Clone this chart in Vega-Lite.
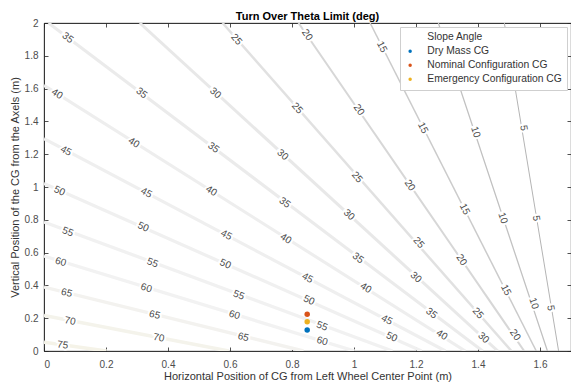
{
  "$schema": "https://vega.github.io/schema/vega-lite/v6.json",
  "width": 527,
  "height": 328,
  "autosize": {"type": "none"},
  "padding": {"left": 44, "top": 23, "right": 0, "bottom": 34},
  "background": "white",
  "title": {"text": "Turn Over Theta Limit (deg)", "fontSize": 11, "fontWeight": "bold", "font": "Liberation Sans", "color": "#000000", "offset": -4},
  "config": {
    "font": "Liberation Sans",
    "view": {"stroke": "#262626", "strokeWidth": 0.8},
    "axis": {
      "grid": false,
      "domainColor": "#262626",
      "domainWidth": 0.8,
      "tickColor": "#262626",
      "tickSize": -4,
      "tickWidth": 0.8,
      "labelColor": "#4d4d4d",
      "labelFontSize": 10,
      "titleFontSize": 11,
      "titleFontWeight": "normal",
      "titleColor": "#333333",
      "format": "~g"
    }
  },
  "datasets": {
    "lines": [
      {"level": 5, "x": 1.660, "y": 0}, {"level": 5, "x": 1.485, "y": 2},
      {"level": 10, "x": 1.624, "y": 0}, {"level": 10, "x": 1.272, "y": 2},
      {"level": 15, "x": 1.588, "y": 0}, {"level": 15, "x": 1.052, "y": 2},
      {"level": 20, "x": 1.549, "y": 0}, {"level": 20, "x": 0.821, "y": 2},
      {"level": 25, "x": 1.508, "y": 0}, {"level": 25, "x": 0.576, "y": 2},
      {"level": 30, "x": 1.464, "y": 0}, {"level": 30, "x": 0.309, "y": 2},
      {"level": 35, "x": 1.415, "y": 0}, {"level": 35, "x": 0.0145, "y": 2},
      {"level": 40, "x": 1.359, "y": 0}, {"level": 40, "x": 0, "y": 1.620},
      {"level": 45, "x": 1.295, "y": 0}, {"level": 45, "x": 0, "y": 1.295},
      {"level": 50, "x": 1.218, "y": 0}, {"level": 50, "x": 0, "y": 1.022},
      {"level": 55, "x": 1.124, "y": 0}, {"level": 55, "x": 0, "y": 0.787},
      {"level": 60, "x": 1.002, "y": 0}, {"level": 60, "x": 0, "y": 0.579},
      {"level": 65, "x": 0.837, "y": 0}, {"level": 65, "x": 0, "y": 0.390},
      {"level": 70, "x": 0.596, "y": 0}, {"level": 70, "x": 0, "y": 0.217},
      {"level": 75, "x": 0.202, "y": 0}, {"level": 75, "x": 0, "y": 0.054}
    ],
    "labels": [
      {"level": 75, "x": 0.06, "y": 0.037},
      {"level": 70, "x": 0.084, "y": 0.183}, {"level": 70, "x": 0.37, "y": 0.08},
      {"level": 65, "x": 0.073, "y": 0.354}, {"level": 65, "x": 0.357, "y": 0.22}, {"level": 65, "x": 0.643, "y": 0.085},
      {"level": 60, "x": 0.054, "y": 0.543}, {"level": 60, "x": 0.33, "y": 0.384}, {"level": 60, "x": 0.614, "y": 0.22}, {"level": 60, "x": 0.897, "y": 0.06},
      {"level": 55, "x": 0.077, "y": 0.726}, {"level": 55, "x": 0.35, "y": 0.537}, {"level": 55, "x": 0.628, "y": 0.34}, {"level": 55, "x": 0.897, "y": 0.152},
      {"level": 50, "x": 0.05, "y": 0.976}, {"level": 50, "x": 0.32, "y": 0.756}, {"level": 50, "x": 0.585, "y": 0.53}, {"level": 50, "x": 0.855, "y": 0.31}, {"level": 50, "x": 1.122, "y": 0.085},
      {"level": 45, "x": 0.071, "y": 1.22}, {"level": 45, "x": 0.33, "y": 0.965}, {"level": 45, "x": 0.588, "y": 0.707}, {"level": 45, "x": 0.85, "y": 0.445}, {"level": 45, "x": 1.106, "y": 0.19},
      {"level": 40, "x": 0.042, "y": 1.567}, {"level": 40, "x": 0.29, "y": 1.27}, {"level": 40, "x": 0.54, "y": 0.976}, {"level": 40, "x": 0.78, "y": 0.685}, {"level": 40, "x": 1.038, "y": 0.384}, {"level": 40, "x": 1.283, "y": 0.098},
      {"level": 35, "x": 0.077, "y": 1.91}, {"level": 35, "x": 0.315, "y": 1.573}, {"level": 35, "x": 0.547, "y": 1.24}, {"level": 35, "x": 0.777, "y": 0.905}, {"level": 35, "x": 1.013, "y": 0.567}, {"level": 35, "x": 1.25, "y": 0.23},
      {"level": 30, "x": 0.553, "y": 1.573}, {"level": 30, "x": 0.77, "y": 1.197}, {"level": 30, "x": 0.984, "y": 0.83}, {"level": 30, "x": 1.2, "y": 0.45}, {"level": 30, "x": 1.418, "y": 0.08},
      {"level": 25, "x": 0.621, "y": 1.9}, {"level": 25, "x": 0.817, "y": 1.48}, {"level": 25, "x": 1.01, "y": 1.06}, {"level": 25, "x": 1.209, "y": 0.66}, {"level": 25, "x": 1.4, "y": 0.23},
      {"level": 20, "x": 0.849, "y": 1.927}, {"level": 20, "x": 1.016, "y": 1.47}, {"level": 20, "x": 1.18, "y": 1.01}, {"level": 20, "x": 1.347, "y": 0.555}, {"level": 20, "x": 1.52, "y": 0.098},
      {"level": 15, "x": 1.09, "y": 1.854}, {"level": 15, "x": 1.222, "y": 1.36}, {"level": 15, "x": 1.357, "y": 0.865}, {"level": 15, "x": 1.49, "y": 0.372},
      {"level": 10, "x": 1.392, "y": 1.335}, {"level": 10, "x": 1.48, "y": 0.81}, {"level": 10, "x": 1.58, "y": 0.29},
      {"level": 5, "x": 1.547, "y": 1.36}, {"level": 5, "x": 1.588, "y": 0.81}, {"level": 5, "x": 1.634, "y": 0.262}
    ],
    "cg": [
      {"series": "Dry Mass CG", "x": 0.849, "y": 0.128},
      {"series": "Nominal Configuration CG", "x": 0.849, "y": 0.224},
      {"series": "Emergency Configuration CG", "x": 0.849, "y": 0.179}
    ]
  },
  "resolve": {"axis": {"x": "independent", "y": "independent"}},
  "layer": [
    {
      "data": {"name": "lines"},
      "mark": {"type": "line", "clip": true},
      "encoding": {
        "x": {"field": "x", "type": "quantitative", "scale": {"domain": [0, 1.7], "nice": false, "zero": false}, "axis": {"values": [0, 0.2, 0.4, 0.6, 0.8, 1, 1.2, 1.4, 1.6], "labelPadding": 12, "title": "Horizontal Position of CG from Left Wheel Center Point (m)", "titlePadding": 1}},
        "y": {"field": "y", "type": "quantitative", "scale": {"domain": [0, 2], "nice": false}, "axis": {"values": [0, 0.2, 0.4, 0.6, 0.8, 1, 1.2, 1.4, 1.6, 1.8, 2], "labelPadding": 10, "title": "Vertical Position of the CG from the Axels (m)", "titlePadding": 4}},
        "detail": {"field": "level", "type": "nominal"},
        "stroke": {"field": "level", "type": "quantitative", "legend": null, "scale": {"domain": [5, 10, 15, 20, 25, 30, 40, 60, 75], "range": ["#b4b4b4", "#c0c0c0", "#cbcbcb", "#d7d7d7", "#e1e1e1", "#e8e8e8", "#eeeeee", "#f2f2f2", "#f5f3e8"]}},
        "strokeWidth": {"field": "level", "type": "quantitative", "legend": null, "scale": {"domain": [5, 15, 30, 75], "range": [1, 1.5, 3, 3.5]}}
      }
    },
    {
      "data": {"name": "labels"},
      "mark": {"type": "text", "fontSize": 10, "stroke": "white", "strokeWidth": 4, "fill": "white"},
      "encoding": {
        "x": {"field": "x", "type": "quantitative", "axis": {"orient": "top", "labels": false, "title": null, "values": [0, 0.2, 0.4, 0.6, 0.8, 1, 1.2, 1.4, 1.6]}},
        "y": {"field": "y", "type": "quantitative", "axis": {"orient": "right", "labels": false, "title": null, "values": [0, 0.2, 0.4, 0.6, 0.8, 1, 1.2, 1.4, 1.6, 1.8, 2]}},
        "text": {"field": "level", "type": "nominal"},
        "angle": {"field": "level", "type": "quantitative", "legend": null, "scale": {"domain": [5, 10, 15, 20, 25, 30, 35, 40, 45, 50, 55, 60, 65, 70, 75], "range": [80.6, 71.5, 63.1, 55.4, 48.5, 42.4, 37.0, 32.1, 27.8, 23.9, 20.3, 16.9, 13.8, 10.9, 8.0]}}
      }
    },
    {
      "data": {"name": "labels"},
      "mark": {"type": "text", "fontSize": 10, "fill": "#4a4a4a"},
      "encoding": {
        "x": {"field": "x", "type": "quantitative", "axis": null},
        "y": {"field": "y", "type": "quantitative", "axis": null},
        "text": {"field": "level", "type": "nominal"},
        "angle": {"field": "level", "type": "quantitative", "legend": null, "scale": {"domain": [5, 10, 15, 20, 25, 30, 35, 40, 45, 50, 55, 60, 65, 70, 75], "range": [80.6, 71.5, 63.1, 55.4, 48.5, 42.4, 37.0, 32.1, 27.8, 23.9, 20.3, 16.9, 13.8, 10.9, 8.0]}}
      }
    },
    {
      "data": {"name": "cg"},
      "mark": {"type": "point", "filled": true, "size": 30, "opacity": 1},
      "encoding": {
        "x": {"field": "x", "type": "quantitative", "axis": null},
        "y": {"field": "y", "type": "quantitative", "axis": null},
        "color": {
          "field": "series", "type": "nominal",
          "scale": {"domain": ["Slope Angle", "Dry Mass CG", "Nominal Configuration CG", "Emergency Configuration CG"], "range": ["#c8c8c8", "#0072BD", "#D95319", "#EDB120"]},
          "legend": {
            "title": null, "orient": "top-right", "offset": 4,
            "strokeColor": "#cfcfcf", "fillColor": "white", "padding": 5,
            "labelFontSize": 10.3, "labelColor": "#333333", "labelFont": "Liberation Sans",
            "symbolSize": 12, "rowPadding": 3, "labelOffset": 12,
            "encode": {"symbols": {"update": {
              "stroke": {"signal": "datum.value === 'Slope Angle' ? '#d0d0d0' : 'transparent'"},
              "strokeWidth": {"value": 3},
              "size": {"signal": "datum.value === 'Slope Angle' ? 300 : 14"}
            }}}
          }
        },
        "shape": {
          "field": "series", "type": "nominal",
          "scale": {"domain": ["Slope Angle", "Dry Mass CG", "Nominal Configuration CG", "Emergency Configuration CG"], "range": ["stroke", "circle", "circle", "circle"]},
          "legend": {"title": null, "orient": "top-right", "offset": 4}
        }
      }
    }
  ]
}
